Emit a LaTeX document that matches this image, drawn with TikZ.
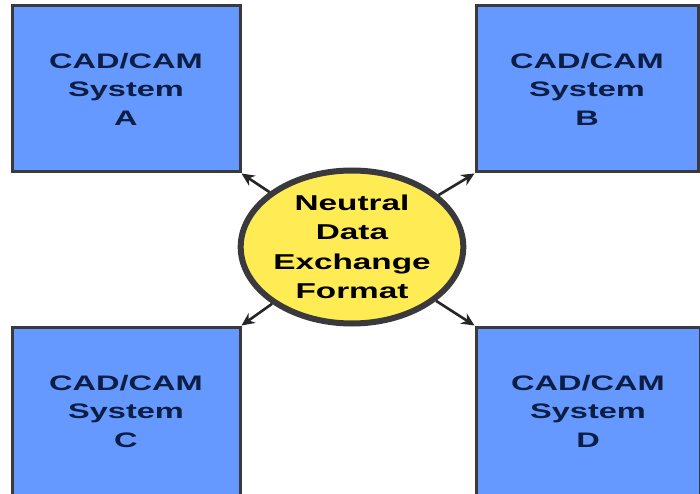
\documentclass[tikz,border=0pt]{standalone}
\usepackage{fontspec}
\setmainfont{Liberation Sans}
\newfontfamily\widesans[FakeStretch=1.55]{Liberation Sans}
\usepackage{tikz}
\usetikzlibrary{arrows.meta,shapes.geometric}

\definecolor{sysblue}{RGB}{102,153,255}
\definecolor{fmtyellow}{RGB}{255,236,85}
\definecolor{edgegray}{RGB}{58,58,62}
\definecolor{sysnavy}{RGB}{12,30,68}

\begin{document}
\begin{tikzpicture}[x=1pt,y=-1pt,
		sysbox/.style={rectangle, draw=edgegray, line width=3pt, fill=sysblue,
			minimum width=228pt, minimum height=166pt, inner sep=0pt, align=center,
			text=sysnavy, font=\widesans\bfseries\fontsize{21}{28.5}\selectfont},
		fmtnode/.style={ellipse, draw=edgegray, line width=6pt, fill=fmtyellow,
			minimum width=209pt, minimum height=153pt, inner sep=0pt, align=center,
			font=\widesans\bfseries\fontsize{21.5}{29.5}\selectfont},
		conn/.style={-{Stealth[length=13pt,width=12pt]}, line width=2.6pt, black!85}]
				% Frame
				\useasboundingbox[fill=white] (0,0) rectangle (700,494);
				
				% Systems
				\node[sysbox] (sysA) at (126,89) {CAD/CAM\\System\\A};
				\node[sysbox, minimum width=222pt] (sysB) at (587,89) {CAD/CAM\\System\\B};
				\node[sysbox, minimum height=168pt] (sysC) at (126,411) {CAD/CAM\\System\\C};
				\node[sysbox, minimum width=224pt, minimum height=168pt] (sysD) at (588,411) {CAD/CAM\\System\\D};
				
				% Neutral format in the middle
				\node[fmtnode] (fmt) at (352,247) {Neutral\\Data\\Exchange\\Format};
				
				% Arrows out to the systems
				\draw[conn] (fmt) -- (sysA.south east);
				\draw[conn] (fmt) -- (sysB.south west);
				\draw[conn] (fmt) -- (sysC.north east);
				\draw[conn] (fmt) -- (sysD.north west);
				
			\end{tikzpicture}
\end{document}
